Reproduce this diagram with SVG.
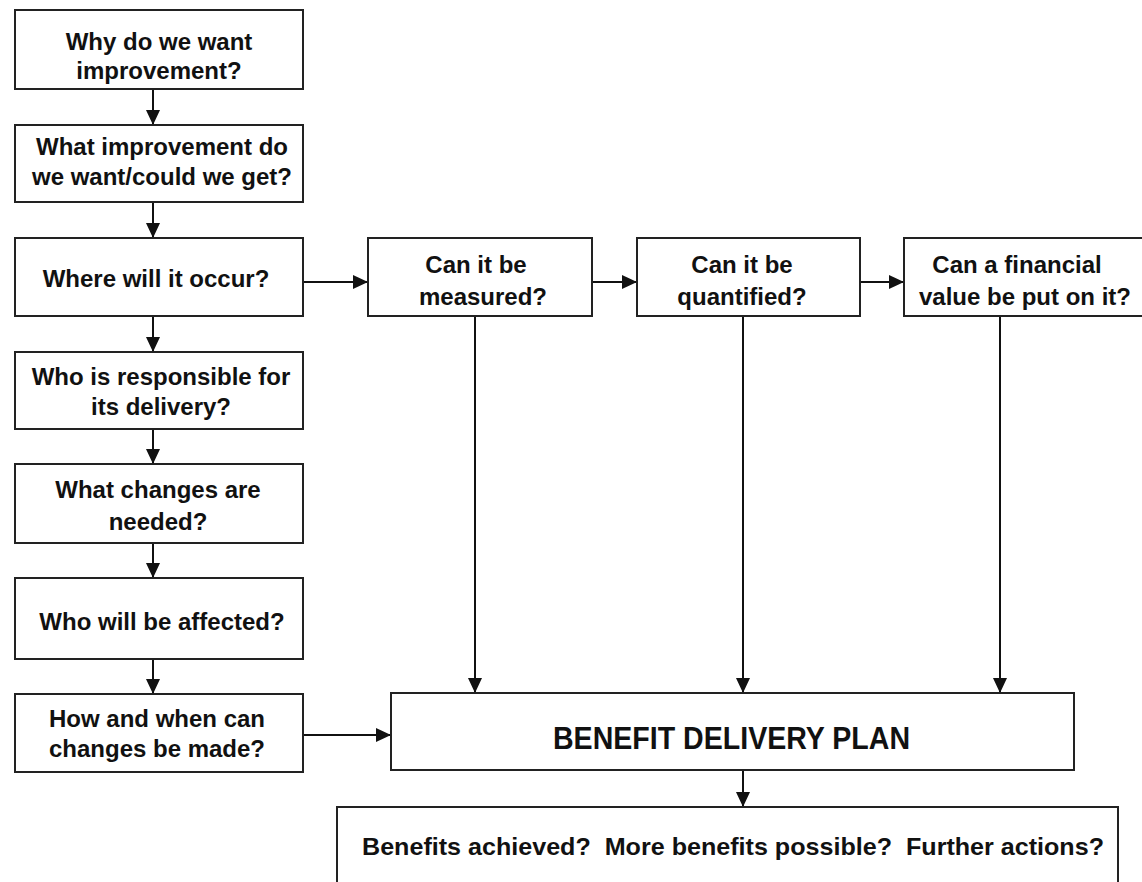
<svg xmlns="http://www.w3.org/2000/svg" width="1142" height="882" viewBox="0 0 1142 882">
  <style>
    .box { fill: #ffffff; stroke: #222222; stroke-width: 2; }
    .q { font-family: "Liberation Sans", Arial, sans-serif; font-size: 24px; font-weight: bold; fill: #111111; text-anchor: middle; }
    .plan { font-family: "Liberation Sans", Arial, sans-serif; font-size: 31px; font-weight: bold; fill: #111111; }
    .review { font-family: "Liberation Sans", Arial, sans-serif; font-size: 24px; font-weight: bold; fill: #111111; }
    .link { fill: none; stroke: #111111; stroke-width: 2; marker-end: url(#arrow); }
  </style>
  <defs>
    <marker id="arrow" viewBox="0 0 15 14" refX="15" refY="7" markerWidth="15" markerHeight="14" markerUnits="userSpaceOnUse" orient="auto">
      <path d="M0,0 L15,7 L0,14 z" fill="#111111"/>
    </marker>
  </defs>
  <rect width="1142" height="882" fill="#ffffff"/>

  <!-- connectors -->
  <g id="connectors">
    <line class="link" x1="153" y1="89" x2="153" y2="125"/>
    <line class="link" x1="153" y1="202" x2="153" y2="238"/>
    <line class="link" x1="153" y1="316" x2="153" y2="352"/>
    <line class="link" x1="153" y1="429" x2="153" y2="464"/>
    <line class="link" x1="153" y1="543" x2="153" y2="578"/>
    <line class="link" x1="153" y1="659" x2="153" y2="694"/>
    <line class="link" x1="303" y1="282" x2="368" y2="282"/>
    <line class="link" x1="592" y1="282" x2="637" y2="282"/>
    <line class="link" x1="860" y1="282" x2="904" y2="282"/>
    <line class="link" x1="475" y1="316" x2="475" y2="693"/>
    <line class="link" x1="743" y1="316" x2="743" y2="693"/>
    <line class="link" x1="1000" y1="316" x2="1000" y2="693"/>
    <line class="link" x1="303" y1="735" x2="391" y2="735"/>
    <line class="link" x1="743" y1="770" x2="743" y2="807"/>
  </g>

  <!-- left column of questions -->
  <g id="why">
    <rect class="box" x="15" y="10" width="288" height="79"/>
    <text class="q" x="159" y="50">Why do we want</text>
    <text class="q" x="159" y="79">improvement?</text>
  </g>
  <g id="what-improvement">
    <rect class="box" x="15" y="125" width="288" height="77"/>
    <text class="q" x="162" y="155">What improvement do</text>
    <text class="q" x="162" y="185">we want/could we get?</text>
  </g>
  <g id="where">
    <rect class="box" x="15" y="238" width="288" height="78"/>
    <text class="q" x="156" y="287">Where will it occur?</text>
  </g>
  <g id="who-responsible">
    <rect class="box" x="15" y="352" width="288" height="77"/>
    <text class="q" x="161" y="385">Who is responsible for</text>
    <text class="q" x="161" y="415">its delivery?</text>
  </g>
  <g id="what-changes">
    <rect class="box" x="15" y="464" width="288" height="79"/>
    <text class="q" x="158" y="498">What changes are</text>
    <text class="q" x="158" y="530">needed?</text>
  </g>
  <g id="who-affected">
    <rect class="box" x="15" y="578" width="288" height="81"/>
    <text class="q" x="162" y="630">Who will be affected?</text>
  </g>
  <g id="how-when">
    <rect class="box" x="15" y="694" width="288" height="78"/>
    <text class="q" x="157" y="727">How and when can</text>
    <text class="q" x="157" y="757">changes be made?</text>
  </g>

  <!-- top row of questions -->
  <g id="measured">
    <rect class="box" x="368" y="238" width="224" height="78"/>
    <text class="q" x="476" y="273">Can it be</text>
    <text class="q" x="483" y="305">measured?</text>
  </g>
  <g id="quantified">
    <rect class="box" x="637" y="238" width="223" height="78"/>
    <text class="q" x="742" y="273">Can it be</text>
    <text class="q" x="742" y="305">quantified?</text>
  </g>
  <g id="financial">
    <rect class="box" x="904" y="238" width="260" height="78"/>
    <text class="q" x="1017" y="273">Can a financial</text>
    <text class="q" x="1025" y="305">value be put on it?</text>
  </g>

  <!-- plan and review -->
  <g id="plan">
    <rect class="box" x="391" y="693" width="683" height="77"/>
    <text class="plan" x="553" y="749" textLength="357" lengthAdjust="spacingAndGlyphs">BENEFIT DELIVERY PLAN</text>
  </g>
  <g id="review">
    <rect class="box" x="337" y="807" width="781" height="100"/>
    <text class="review" x="362" y="855" textLength="742" lengthAdjust="spacingAndGlyphs" xml:space="preserve">Benefits achieved?  More benefits possible?  Further actions?</text>
  </g>
</svg>
